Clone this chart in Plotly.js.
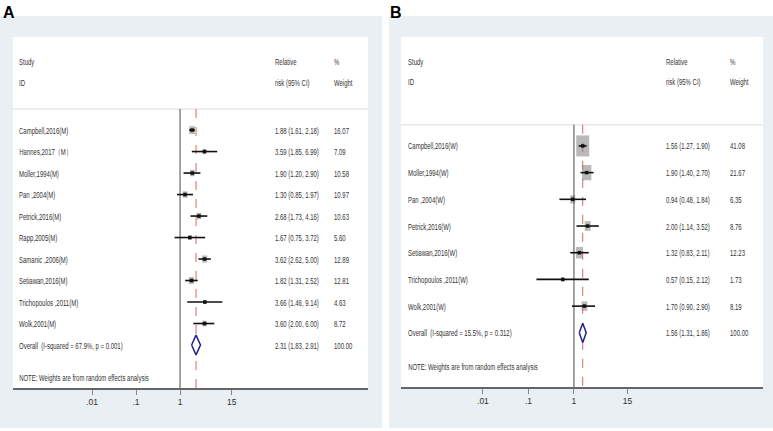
<!DOCTYPE html>
<html><head><meta charset="utf-8">
<script src="https://cdn.plot.ly/plotly-3.0.1.min.js"></script>
<style>html,body{margin:0;padding:0;background:#fff}#chart{width:773px;height:431px}</style>
</head><body><div id="chart"></div>
<script>
// Panel A (men)
const studiesA = ["Campbell,2016(M)","Hannes,2017（M）","Moller,1994(M)","Pan ,2004(M)","Petrick,2016(M)","Rapp,2005(M)","Samanic ,2006(M)","Setiawan,2016(M)","Trichopoulos ,2011(M)","Wolk,2001(M)"];
const rrA = [1.88,3.59,1.90,1.30,2.68,1.67,3.62,1.82,3.66,3.60];
const loA = [1.61,1.85,1.20,0.85,1.73,0.75,2.62,1.31,1.46,2.00];
const hiA = [2.18,6.99,2.90,1.97,4.16,3.72,5.00,2.52,9.14,6.00];
const wA  = [16.07,7.09,10.58,10.97,10.63,5.60,12.89,12.81,4.63,8.72];
const overallA = [2.31,1.83,2.91];
const overallLabelA = "Overall  (I-squared = 67.9%, p = 0.001)";
// Panel B (women)
const studiesB = ["Campbell,2016(W)","Moller,1994(W)","Pan ,2004(W)","Petrick,2016(W)","Setiawan,2016(W)","Trichopoulos ,2011(W)","Wolk,2001(W)"];
const rrB = [1.56,1.90,0.94,2.00,1.32,0.57,1.70];
const loB = [1.27,1.40,0.48,1.14,0.83,0.15,0.90];
const hiB = [1.90,2.70,1.84,3.52,2.11,2.12,2.90];
const wB  = [41.08,21.67,6.35,8.76,12.23,1.73,8.19];
const overallB = [1.56,1.31,1.86];
const overallLabelB = "Overall  (I-squared = 15.5%, p = 0.312)";
const tickVals = [0.01,0.1,1,15];
const tickText = [".01",".1","1","15"];
const noteText = "NOTE: Weights are from random effects analysis";

const W = 773, H = 431;
const FONT = "Liberation Sans, Arial, sans-serif";
const TXT = "#333333";
const SQUEEZE = 0.63;
const px = v => v / W;
const py = v => 1 - v / H;
const fmt = (e,l,h) => e.toFixed(2) + " (" + l.toFixed(2) + ", " + h.toFixed(2) + ")";

const traces = [];
const shapes = [];
const annotations = [];

function panel(cfg) {
  const {studies, rr, lo, hi, w, overall, overallLabel, xa, ya, xref, yref, col, hdr, sep, bottom, dh, bw, bh, dom, rng} = cfg;
  const n = studies.length;
  const ov = n;
  const pxPerDecade = (dom[1] - dom[0]) / (rng[1] - rng[0]);
  const lx = [], ly = [];
  for (let i = 0; i < n; i++) { lx.push(lo[i], hi[i], null); ly.push(i, i, null); }
  for (let i = 0; i < n; i++) {
    const s = Math.sqrt(w[i]);
    const half = (bw * s / 2) / pxPerDecade; // half-width in log10 units
    shapes.push({type:"rect", xref:xref, yref:yref, ysizemode:"pixel", yanchor: i,
      x0: rr[i] * Math.pow(10, -half), x1: rr[i] * Math.pow(10, half), y0: -bh*s/2, y1: bh*s/2,
      fillcolor:"#b9b9b9", line:{width:0}, layer:"below"});
  }
  traces.push({type:"scatter", mode:"lines", x: lx, y: ly, xaxis: xa, yaxis: ya,
    line:{color:"#111", width:1.6}, hoverinfo:"skip", showlegend:false});
  traces.push({type:"scatter", mode:"markers", x: rr, y: studies.map((_, i) => i), xaxis: xa, yaxis: ya,
    marker:{symbol:"square", size:3.5, color:"#111"}, hoverinfo:"skip", showlegend:false});
  traces.push({type:"scatter", mode:"lines", fill:"toself", fillcolor:"#ffffff",
    x:[overall[1], overall[0], overall[2], overall[0], overall[1]],
    y:[ov, ov - dh, ov, ov + dh, ov], xaxis: xa, yaxis: ya,
    line:{color:"#22228a", width:1.5}, hoverinfo:"skip", showlegend:false});
  shapes.push({type:"line", xref:xref, yref:yref, x0:1, x1:1, y0:sep, y1:bottom, line:{color:"#666", width:1.2}, layer:"below"});
  shapes.push({type:"line", xref:xref, yref:yref, x0:overall[0], x1:overall[0], y0:sep, y1:bottom, line:{color:"#d06a6a", width:1, dash:"dash"}, layer:"below"});
  shapes.push({type:"line", xref:"paper", yref:yref, x0:px(cfg.innerL), x1:px(cfg.innerR), y0:sep, y1:sep, line:{color:"#dcdcdc", width:1}, layer:"below"});
  const f = {family: FONT, size: 9.5, color: TXT};
  const addT = (x, y, t) => annotations.push({xref:"paper", yref:yref, x:px(x), y:y, text:t, showarrow:false, xanchor:"left", yanchor:"middle", font:f});
  addT(col[0], hdr[0], "Study"); addT(col[0], hdr[1], "ID");
  addT(col[1], hdr[0], "Relative"); addT(col[1], hdr[1], "risk (95% CI)");
  addT(col[2], hdr[0], "%"); addT(col[2], hdr[1], "Weight");
  for (let i = 0; i < n; i++) {
    addT(col[0], i, studies[i]);
    addT(col[1], i, fmt(rr[i], lo[i], hi[i]));
    addT(col[2], i, w[i].toFixed(2));
  }
  addT(col[0], ov, overallLabel);
  addT(col[1], ov, fmt(overall[0], overall[1], overall[2]));
  addT(col[2], ov, "100.00");
  addT(col[0], cfg.noteY, noteText);
}

shapes.push({type:"rect", xref:"paper", yref:"paper", x0:px(0), x1:px(382), y0:py(428), y1:py(16), fillcolor:"#e9eff2", line:{width:0}, layer:"below"});
shapes.push({type:"rect", xref:"paper", yref:"paper", x0:px(389), x1:px(773), y0:py(428), y1:py(16), fillcolor:"#e9eff2", line:{width:0}, layer:"below"});
shapes.push({type:"rect", xref:"paper", yref:"paper", x0:px(13), x1:px(368), y0:py(388), y1:py(37), fillcolor:"#ffffff", line:{width:0}, layer:"below"});
shapes.push({type:"rect", xref:"paper", yref:"paper", x0:px(401), x1:px(763), y0:py(387), y1:py(37), fillcolor:"#ffffff", line:{width:0}, layer:"below"});

const domA = [13, 368], rngA = [-3.795, 4.27];
const domB = [401, 763], rngB = [-3.80, 4.154];

panel({studies:studiesA, rr:rrA, lo:loA, hi:hiA, w:wA, overall:overallA, overallLabel:overallLabelA,
  xa:"x", ya:"y", xref:"x", yref:"y", col:[17,273,332], hdr:[-3.21,-2.23], sep:-0.98, bottom:12.0,
  dh:0.46, bw:1.45, bh:1.95, innerL:13, innerR:368, noteY:11.53, dom:domA, rng:rngA});
panel({studies:studiesB, rr:rrB, lo:loB, hi:hiB, w:wB, overall:overallB, overallLabel:overallLabelB,
  xa:"x2", ya:"y2", xref:"x2", yref:"y2", col:[406,664,728], hdr:[-3.18,-2.40], sep:-0.79, bottom:9.03,
  dh:0.36, bw:2.03, bh:3.28, innerL:401, innerR:763, noteY:8.28, dom:domB, rng:rngB});

annotations.push({xref:"paper", yref:"paper", x:px(1), y:py(2), xanchor:"left", yanchor:"top", text:"<b>A</b>", showarrow:false, font:{family:"Liberation Sans, Arial, sans-serif", size:16, color:"#000"}});
annotations.push({xref:"paper", yref:"paper", x:px(388), y:py(2), xanchor:"left", yanchor:"top", text:"<b>B</b>", showarrow:false, font:{family:"Liberation Sans, Arial, sans-serif", size:16, color:"#000"}});

const xCommon = {type:"log", showgrid:false, zeroline:false, showline:true, linecolor:"#666", linewidth:1.5,
  ticks:"outside", ticklen:5, tickcolor:"#888", tickwidth:1, tickmode:"array", tickvals:tickVals, ticktext:tickText,
  tickfont:{family:FONT, size:8.5, color:TXT}, fixedrange:true};
const yCommon = {showgrid:false, zeroline:false, showline:false, showticklabels:false, ticks:"", fixedrange:true};

const layout = {
  width:W, height:H, margin:{l:0, r:0, t:0, b:0}, paper_bgcolor:"#ffffff", plot_bgcolor:"rgba(0,0,0,0)",
  showlegend:false,
  xaxis: Object.assign({}, xCommon, {domain:[px(domA[0]), px(domA[1])], range:rngA, anchor:"y"}),
  yaxis: Object.assign({}, yCommon, {domain:[py(388), py(37)], range:[12.0, -4.33], anchor:"x"}),
  xaxis2: Object.assign({}, xCommon, {domain:[px(domB[0]), px(domB[1])], range:rngB, anchor:"y2"}),
  yaxis2: Object.assign({}, yCommon, {domain:[py(387), py(37)], range:[9.03, -4.08], anchor:"x2"}),
  shapes: shapes, annotations: annotations
};
Plotly.newPlot("chart", traces, layout, {staticPlot:true, displayModeBar:false}).then(gd => {
  // condensed look of the original narrow font: squeeze annotation text horizontally
  gd.querySelectorAll("text.annotation-text").forEach(t => {
    if (t.textContent === "A" || t.textContent === "B") return;
    const x0 = t.getBBox().x;
    t.setAttribute("transform", "translate(" + x0 + ",0) scale(" + SQUEEZE + ",1) translate(" + (-x0) + ",0)");
  });
});
</script></body></html>
